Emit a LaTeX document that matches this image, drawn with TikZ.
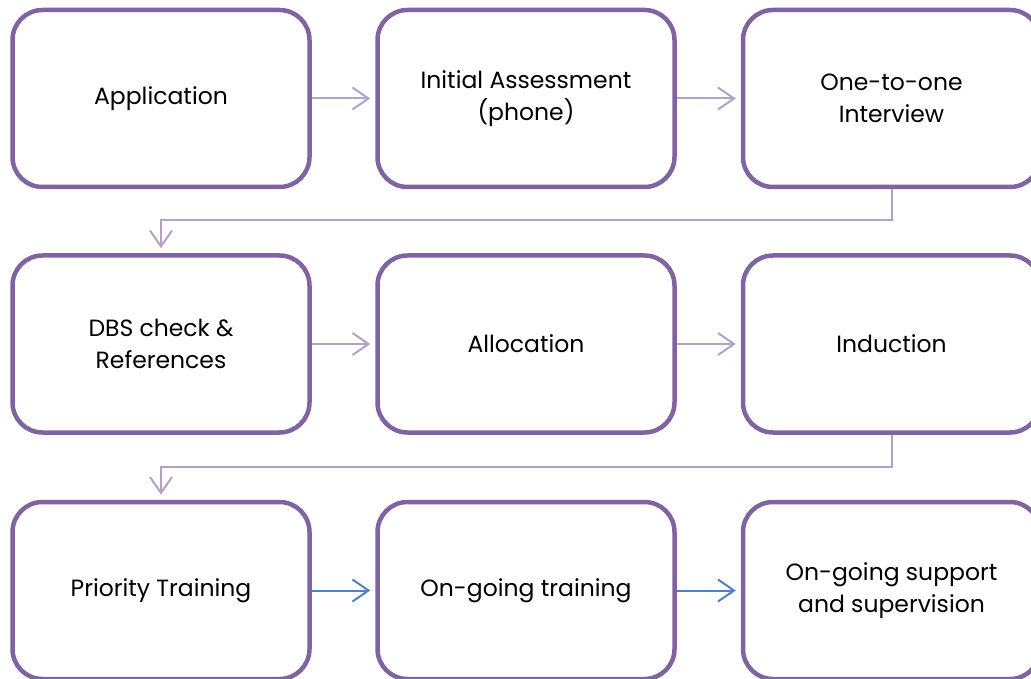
\documentclass[tikz,border=0pt]{standalone}
\usepackage{fontspec}
\setmainfont{Poppins}
\usetikzlibrary{arrows.meta}
\definecolor{boxpurple}{HTML}{8064A2}
\definecolor{lightpurple}{HTML}{B3A2C7}
\definecolor{conblue}{HTML}{4F81BD}
\tikzset{
  stepbox/.style={draw=boxpurple, line width=4.5pt, rounded corners=30pt, fill=white,
    minimum width=297pt, minimum height=177pt, align=center, inner sep=0pt,
    font=\fontsize{23.5pt}{32pt}\selectfont, text=black},
  conn/.style={line width=2pt, draw=lightpurple, -{Straight Barb[length=16pt,width=22pt,line width=2pt]}, shorten >=5pt},
  connblue/.style={conn, draw=conblue}
}
\begin{document}
\begin{tikzpicture}[x=1pt,y=-1pt]
\useasboundingbox (0,0) rectangle (1031,679);
\node[stepbox] (b1) at (161,98.5) {Application};
\node[stepbox] (b2) at (526,98.5) {Initial Assessment\\(phone)};
\node[stepbox] (b3) at (891.5,98.5) {One-to-one\\Interview};
\node[stepbox] (b4) at (161,344) {DBS check \&\\References};
\node[stepbox] (b5) at (526,344) {Allocation};
\node[stepbox] (b6) at (891.5,344) {Induction};
\node[stepbox] (b7) at (161,590.5) {Priority Training};
\node[stepbox] (b8) at (526,590.5) {On-going training};
\node[stepbox] (b9) at (891.5,590.5) {On-going support\\and supervision};
\coordinate (e1) at (891.5,220);
\coordinate (e2) at (891.5,467);
\draw[conn] (b1) -- (b2);
\draw[conn] (b2) -- (b3);
\draw[conn] (b3.south) -- (e1) -| (b4.north);
\draw[conn] (b4) -- (b5);
\draw[conn] (b5) -- (b6);
\draw[conn] (b6.south) -- (e2) -| (b7.north);
\draw[connblue] (b7) -- (b8);
\draw[connblue] (b8) -- (b9);
\end{tikzpicture}
\end{document}
